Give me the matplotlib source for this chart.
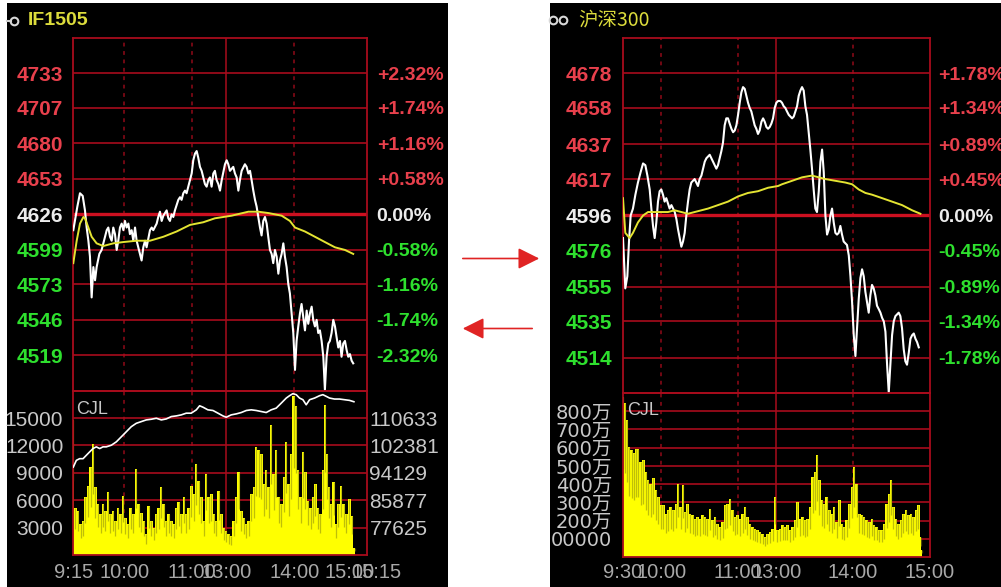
import numpy as np
import matplotlib
matplotlib.use("Agg")
import matplotlib.pyplot as plt
import matplotlib.transforms as mtransforms
from matplotlib.patches import Rectangle, FancyArrowPatch
from matplotlib.lines import Line2D

# ------------------------------------------------------------------ data
# IF1505 futures (minutes since 9:15, trading time)
if_title = "IF1505"
if_close = 4626
if_levels = [4733, 4707, 4680, 4653, 4626, 4599, 4573, 4546, 4519]
if_pct = ["+2.32%", "+1.74%", "+1.16%", "+0.58%", "0.00%", "-0.58%", "-1.16%", "-1.74%", "-2.32%"]
if_time = [0.0, 3.6, 5.9, 8.3, 10.3, 11.8, 13.3, 14.7, 16.2, 17.7, 19.2, 20.6, 23.0, 25.0, 26.5, 28.0, 29.5, 30.9,
           32.4, 33.9, 35.3, 36.8, 38.3, 39.7, 41.2, 42.7, 44.2, 45.6, 47.1, 48.6, 50.0, 51.5, 53.0, 54.5, 55.9,
           57.4, 58.9, 60.3, 61.8, 63.3, 64.7, 67.7, 69.2, 70.6, 73.6, 75.0, 76.5, 78.0, 79.5, 82.4, 83.9, 85.3,
           86.8, 88.3, 89.7, 91.2, 92.7, 94.2, 95.6, 97.1, 98.6, 100.0, 101.5, 103.0, 104.5, 105.9, 107.4, 108.9,
           110.3, 111.8, 113.3, 114.7, 116.2, 117.7, 119.2, 120.6, 122.1, 123.6, 125.0, 126.5, 128.0, 129.5,
           131.0, 133.9, 135.4, 136.8, 138.3, 141.2, 142.7, 144.2, 145.7, 147.1, 148.6, 151.5, 153.0, 154.5,
           156.0, 157.4, 158.9, 160.4, 161.8, 163.3, 164.8, 166.2, 167.7, 169.2, 170.7, 172.1, 173.6, 175.1,
           176.5, 178.0, 179.5, 181.0, 182.4, 183.9, 185.4, 186.8, 188.3, 189.8, 191.2, 192.7, 194.2, 195.7,
           197.1, 198.6, 200.1, 201.5, 203.0, 204.5, 206.0, 207.4, 208.9, 210.4, 211.8, 213.3, 214.8, 216.2,
           217.7, 219.2, 220.7, 222.1, 223.6, 225.1, 226.5, 228.0, 229.5, 231.0, 232.4, 233.9, 235.4, 236.8,
           238.3, 239.8, 241.3, 242.7, 244.2, 245.7, 247.1]
if_price = [4614, 4632, 4642, 4640, 4629, 4616, 4606, 4594, 4563, 4586, 4576, 4586, 4596, 4599, 4604, 4609, 4614, 4616,
            4609, 4606, 4616, 4611, 4599, 4606, 4616, 4619, 4614, 4621, 4616, 4619, 4611, 4614, 4606, 4616, 4606,
            4601, 4596, 4591, 4601, 4606, 4601, 4614, 4616, 4614, 4619, 4624, 4628, 4621, 4625, 4629, 4623, 4621,
            4626, 4624, 4629, 4633, 4637, 4639, 4637, 4642, 4644, 4642, 4647, 4652, 4657, 4667, 4672, 4674,
            4669, 4662, 4659, 4654, 4649, 4647, 4652, 4654, 4647, 4657, 4659, 4652, 4649, 4644,
            4652, 4664, 4667, 4664, 4659, 4662, 4657, 4654, 4644, 4652, 4659, 4664, 4662, 4657,
            4659, 4652, 4644, 4637, 4632, 4624, 4616, 4610, 4621, 4624, 4619, 4609, 4599, 4596,
            4589, 4599, 4594, 4581, 4591, 4596, 4604, 4594, 4586, 4573, 4566, 4551, 4536, 4508,
            4530, 4541, 4551, 4558, 4548, 4538, 4553, 4543, 4551, 4556, 4546, 4541, 4546, 4536,
            4538, 4530, 4518, 4493, 4518, 4528, 4530, 4536, 4546, 4541, 4533, 4525, 4530, 4518,
            4528, 4530, 4523, 4518, 4520, 4515, 4513]
if_avg_time = [0, 3.0, 5.9, 8.9, 10.3, 13.3, 16.2, 20.6, 26.5, 35.3, 44.2, 55.9, 67.7, 79.5, 91.2, 103.0, 114.7,
               125.0, 139.8, 154.5, 163.3, 172.1, 183.9, 191.2, 195.7, 204.5, 213.3, 222.1, 231.0, 239.8, 247.1]
if_avg = [4589, 4606, 4619, 4624, 4623, 4616, 4609, 4604, 4602, 4604, 4605, 4606, 4606, 4609, 4613, 4618, 4620,
          4623, 4625, 4628, 4628, 4627, 4625, 4621, 4616, 4613, 4609, 4605, 4601, 4599, 4596]
if_vol_levels = [15000, 12000, 9000, 6000, 3000]
if_vol_time = [0, 1.8, 4.1, 6.5, 8.6, 10.6, 13.0, 15.3, 17.4, 19.4, 21.8, 24.1, 26.2, 28.3, 30.6, 32.7, 35.0,
               37.1, 39.4, 41.8, 43.8, 45.9, 48.3, 50.6, 52.7, 55.6, 57.7, 60.0, 62.4, 64.4, 66.5, 68.8, 71.2,
               73.3, 75.3, 77.7, 79.7, 82.1, 84.1, 86.5, 88.8, 90.9, 93.0, 95.3, 97.7, 99.7, 101.8, 104.1, 106.5,
               108.6, 110.6, 113.0, 115.3, 117.4, 119.4, 121.8, 124.1, 126.2, 128.3, 130.6, 133.0, 135.0, 137.1,
               139.4, 141.5, 143.9, 145.9, 148.3, 150.6, 152.7, 154.7, 157.1, 159.4, 161.5, 163.6, 165.9, 168.3,
               170.3, 172.4, 174.7, 176.8, 179.1, 181.2, 183.6, 185.9, 188.0, 190.0, 192.4, 194.4, 196.5, 198.3,
               200.6, 202.7, 204.7, 207.1, 209.4, 211.5, 213.5, 215.9, 218.0, 220.3, 221.8, 223.6, 225.6, 227.7,
               229.7, 232.1, 234.1, 236.5, 238.6, 240.9, 243.8, 245.9, 248.3]
if_vol = [14800, 5200, 4830, 3360, 3730, 6310, 7600, 9630, 12210, 7420, 5570, 4460, 5570, 4830, 6860, 4460, 4830,
          3730, 5200, 4460, 6490, 4100, 3360, 5200, 4460, 9450, 5570, 4650, 3730, 2250, 5390, 3730, 2990,
          4460, 5200, 7420, 5570, 3730, 4460, 3730, 3360, 5200, 5760, 4460, 6310, 4460, 5200, 7600, 6680,
          10000, 8150, 6310, 3730, 8890, 6310, 6680, 4460, 3730, 7050, 4460, 2990, 2620, 2250,
          2070, 3730, 6310, 9080, 4830, 4100, 3360, 3730, 6680, 7420, 11850, 11480, 11110, 7790,
          9260, 7420, 14240, 8890, 11480, 6310, 5570, 8520, 12400, 7790, 11110, 17380, 16270, 9260,
          6310, 11290, 9080, 5940, 5200, 6310, 7790, 5200, 4460, 9260, 16460, 11110, 7420, 5570,
          7970, 3360, 5570, 7600, 5570, 4460, 6130, 4280, 770]
if_oi_levels = [110633, 102381, 94129, 85877, 77625]
if_oi_time = [0, 2.7, 5.6, 8.6, 11.5, 14.4, 17.4, 20.3, 23.3, 26.2, 29.1, 33.6, 38.0, 42.4, 46.8, 51.2, 55.6,
              60.0, 64.4, 68.8, 73.3, 77.7, 82.1, 86.5, 90.9, 95.3, 99.7, 104.1, 108.6, 111.5, 114.4, 118.8,
              123.3, 127.7, 132.1, 135.0, 139.4, 143.9, 148.3, 152.7, 157.1, 161.5, 165.9, 170.3, 174.7, 179.1,
              183.6, 188.0, 190.9, 193.8, 196.8, 199.7, 202.7, 205.6, 208.6, 213.0, 217.4, 220.3, 223.3, 226.2,
              230.6, 235.0, 239.4, 243.8, 247.7]
if_oi = [95870, 97900, 98400, 98400, 99420, 100430, 101450, 101960, 101450, 101960, 101960, 102460, 103480,
         105000, 106520, 108050, 109060, 109570, 110080, 110280, 110580, 110080, 110380, 111090, 111290, 111600,
         112110, 112110, 113120, 114340, 113930, 113120, 112920, 112110, 111290, 110890, 111600, 111900, 112310,
         112920, 113120, 112920, 112610, 112310, 113120, 113630, 115150, 116670, 117380, 117990, 117690, 116670,
         116170, 114640, 116170, 116670, 117380, 117690, 117180, 116670, 116370, 116370, 116170, 115970, 115560]
if_time_ticks = [0, 45, 105, 135, 195, 244, 268]
if_time_labels = ["9:15", "10:00", "11:00", "13:00", "14:00", "15:00", "15:15"]

# 沪深300 index (minutes since 9:30, trading time)
hs_title = "沪深300"
hs_close = 4596
hs_levels = [4678, 4658, 4637, 4617, 4596, 4576, 4555, 4535, 4514]
hs_pct = ["+1.78%", "+1.34%", "+0.89%", "+0.45%", "0.00%", "-0.45%", "-0.89%", "-1.34%", "-1.78%"]
hs_time = [0, 1.8, 3.4, 4.7, 6.0, 7.8, 9.7, 11.7, 13.8, 15.7, 17.5, 19.1, 20.9, 22.2, 23.5, 24.8, 26.1, 27.4,
           28.7, 30.0, 31.3, 32.6, 33.9, 35.2, 36.5, 37.9, 39.2, 40.5, 41.8, 43.1, 44.4, 45.7, 47.0, 48.3, 49.6,
           50.9, 52.2, 53.5, 54.8, 56.1, 57.4, 58.7, 60.0, 61.4, 62.7, 64.0, 65.3, 66.6, 67.9, 69.2, 70.5, 71.8,
           73.1, 74.4, 75.7, 77.0, 78.3, 79.6, 80.9, 82.2, 83.5, 84.9, 86.2, 87.5, 88.8, 90.1, 91.4, 92.7, 94.0,
           95.3, 96.6, 97.9, 99.2, 100.5, 101.8, 103.1, 104.4, 105.7, 107.0, 108.4, 109.7, 111.0, 112.3, 113.6,
           114.9, 116.2, 117.5, 118.8, 120.1, 121.4,
           123.2, 124.5, 125.8, 127.1, 128.4, 129.8, 131.1, 132.4, 133.7, 135.0, 136.3, 137.6, 138.9, 140.2,
           141.5, 142.8, 144.1, 145.4, 146.7, 148.0, 149.3, 150.6, 151.9, 153.3, 154.6, 155.9, 157.2, 158.5,
           159.8, 161.1, 162.4, 163.7, 165.0, 166.3, 167.6, 168.9, 170.2, 171.5, 172.8, 174.1, 175.4, 176.8,
           178.1, 179.4, 180.7, 182.0, 183.3, 184.6, 185.9, 187.2, 188.5, 189.8, 191.1, 192.4, 193.7, 195.0,
           196.3, 197.6, 198.9, 200.3, 201.6, 202.9, 204.2, 205.5, 206.8, 208.1, 209.4, 210.7, 212.0, 213.3,
           214.6, 215.9, 217.2, 218.5, 219.8, 221.1, 222.4, 223.8, 225.1, 226.4, 227.7, 229.0, 230.3, 231.6]
hs_price = [4583, 4554, 4561, 4581, 4596, 4600, 4608, 4615, 4621, 4626, 4625, 4619, 4611, 4600, 4590, 4583, 4592,
            4604, 4610, 4611, 4608, 4604, 4606, 4603, 4600, 4602, 4600, 4598, 4594, 4588, 4583, 4578, 4581, 4586,
            4596, 4604, 4611, 4615, 4616, 4617, 4615, 4613, 4617, 4619, 4623, 4627, 4629, 4630, 4631, 4629, 4627,
            4625, 4623, 4625, 4629, 4633, 4638, 4648, 4652, 4652, 4649, 4646, 4644, 4645, 4648, 4654, 4661, 4667,
            4670, 4669, 4665, 4661, 4658, 4656, 4652, 4648, 4646, 4643, 4645, 4650, 4652, 4650, 4647, 4646, 4647,
            4649, 4652, 4658, 4661, 4662,
            4662, 4661, 4659, 4658, 4656, 4654, 4653, 4652, 4653, 4656, 4659, 4665, 4668, 4670, 4668, 4659, 4654,
            4644, 4634, 4623, 4611, 4600, 4598, 4610, 4627, 4634, 4621, 4596, 4585, 4588, 4596, 4600, 4592, 4586,
            4585, 4586, 4590, 4585, 4581, 4580, 4579, 4573, 4561, 4546, 4527, 4515, 4531, 4548, 4560, 4565, 4561,
            4552, 4546, 4540, 4550, 4556, 4554, 4550, 4544, 4542, 4540, 4537, 4535, 4529, 4510, 4494, 4510, 4527,
            4535, 4538, 4539, 4540, 4538, 4531, 4519, 4512, 4510, 4517, 4525, 4527, 4528, 4525, 4523, 4520]
hs_avg_time = [0, 1.8, 5.2, 7.8, 11.7, 15.7, 19.6, 24.8, 30.0, 35.2, 40.5, 45.7, 50.9, 56.1, 61.4, 66.6, 74.4,
               82.2, 90.1, 97.9, 105.7, 113.6, 121.4, 124.5, 132.4, 140.2, 148.0, 158.5, 166.3, 174.1, 179.4,
               184.6, 189.8, 195.0, 202.9, 210.7, 218.5, 226.4, 232.9]
hs_avg = [4606, 4586, 4583, 4586, 4592, 4596, 4598, 4598, 4598, 4598, 4599, 4598, 4597, 4598, 4599, 4600, 4602,
          4604, 4607, 4609, 4610, 4612, 4613, 4614, 4616, 4618, 4619, 4617, 4616, 4615, 4614, 4611, 4609, 4608,
          4606, 4604, 4602, 4599, 4597]
hs_vol_levels = [800, 700, 600, 500, 400, 300, 200, 100]
hs_vol_labels = ["800万", "700万", "600万", "500万", "400万", "300万", "200万", "00000"]
hs_vol_time = [0, 1.5, 3.4, 4.9, 6.8, 8.6, 10.2, 12.0, 13.8, 15.9, 18.0, 19.8, 21.7, 23.7, 25.8, 27.7, 29.5, 31.6,
               33.7, 35.5, 37.3, 39.4, 41.5, 43.3, 45.1, 46.7, 48.5, 50.4, 52.5, 54.5, 56.4, 58.2, 60.3, 62.4,
               64.2, 66.0, 68.1, 70.2, 72.0, 73.9, 76.0, 78.0, 79.9, 81.7, 83.8, 85.9, 87.7, 89.5, 91.6, 93.7,
               95.5, 97.4, 99.5, 101.5, 103.4, 105.2, 107.3, 109.4, 111.2, 113.0, 115.1, 117.2, 119.0, 120.9,
               123.0, 125.0, 126.9, 128.7, 130.8, 132.9, 134.7, 136.5, 138.6, 140.7, 142.5, 144.4, 146.5, 148.5,
               150.4, 152.2, 153.8, 155.6, 157.4, 159.5, 161.6, 163.4, 165.3, 167.3, 169.4, 171.3, 173.1, 175.2,
               177.3, 179.1, 180.9, 183.0, 185.1, 186.9, 188.8, 190.8, 192.9, 194.8, 196.6, 198.7, 200.8, 202.6,
               204.4, 206.5, 208.6, 209.6, 211.7, 213.8, 215.6, 217.5, 219.6, 221.7, 223.5, 225.3, 227.4, 229.5,
               231.3, 233.1, 233.9]
hs_vol = [879, 843, 751, 605, 586, 568, 595, 595, 522, 531, 467, 421, 403, 431, 366, 330, 284, 284, 238, 256,
          275, 256, 293, 403, 275, 394, 247, 293, 238, 229, 211, 220, 211, 229, 220, 211, 266, 202, 220, 183,
          165, 192, 284, 293, 321, 256, 220, 229, 211, 238, 275, 220, 183, 165, 156, 147, 137, 128, 110, 128,
          137, 156, 330, 147, 156, 174, 165, 174, 147, 165, 202, 302, 211, 220, 202, 211, 275, 440, 467, 559,
          421, 311, 293, 330, 256, 238, 275, 192, 311, 183, 165, 202, 293, 385, 495, 403, 238, 229, 220, 202,
          192, 211, 174, 165, 147, 147, 183, 293, 348, 421, 275, 211, 183, 202, 238, 256, 229, 238, 220, 256,
          284, 110, 37]
hs_time_ticks = [0, 30, 90, 120, 180, 240]
hs_time_labels = ["9:30", "10:00", "11:00", "13:00", "14:00", "15:00"]

# ------------------------------------------------------------------ style
W, H = 1001, 587
GRID = "#a80c1c"
DASH = "#900a18"
CENTER = "#cc1020"
RED_T = "#e8404c"
GREEN_T = "#2ee02e"
WHITE_T = "#ececec"
GRAY_T = "#c8c8c8"
TIME_T = "#a8a8a8"
YEL = "#ffff00"
OLIVE = "#8c8c10"
AVG = "#e4e432"
NUM = "Liberation Sans"

fig = plt.figure(figsize=(W / 100, H / 100), dpi=100)
fig.patch.set_facecolor("white")


def fx(x):
    return x / W


def fy(y):
    return 1 - y / H


def add_ax(x0, y0, x1, y1):
    return fig.add_axes([x0 / W, 1 - y1 / H, (x1 - x0) / W, (y1 - y0) / H])


for (x0, x1) in [(7, 448), (550, 1001)]:
    fig.add_artist(Rectangle((fx(x0), fy(587)), (x1 - x0) / W, (587 - 3) / H,
                             transform=fig.transFigure, facecolor="black", edgecolor="none", zorder=-10))


def level_color(v, close):
    if v > close:
        return RED_T
    if v < close:
        return GREEN_T
    return WHITE_T


def style_spines(ax):
    for s in ax.spines.values():
        s.set_color(GRID)
        s.set_linewidth(1.3)


def vert_lines(ax, vticks, solid):
    for v in vticks:
        ax.axvline(v, color=GRID if v == solid else DASH, lw=1.1,
                   ls="-" if v == solid else (0, (2.5, 3)), zorder=1)


def price_panel(ax, xmax, close, step, levels, pct, vticks, solid, padl, padr):
    ax.set_facecolor("none")
    ax.set_xlim(0, xmax)
    ax.set_ylim(close - 5 * step, close + 5 * step)
    style_spines(ax)
    ax.set_xticks([])
    ax.set_yticks(levels)
    ax.set_yticklabels([str(v) for v in levels], family=NUM, weight="bold", fontsize=15)
    ax.tick_params(axis="y", length=0, pad=padl)
    ax.yaxis.grid(True, color=GRID, lw=1.2)
    for gl, lv in zip(ax.get_ygridlines(), levels):
        if lv == close:
            gl.set_color(CENTER)
            gl.set_linewidth(2.4)
    for lbl, lv in zip(ax.get_yticklabels(), levels):
        lbl.set_color(level_color(lv, close))
    vert_lines(ax, vticks, solid)
    ax2 = ax.twinx()
    ax2.set_ylim(ax.get_ylim())
    ax2.set_yticks(levels)
    ax2.set_yticklabels(pct, family=NUM, weight="bold", fontsize=14)
    ax2.tick_params(axis="y", length=0, pad=padr)
    for s in ax2.spines.values():
        s.set_visible(False)
    for lbl, lv in zip(ax2.get_yticklabels(), levels):
        lbl.set_color(level_color(lv, close))
    return ax2


def volume_panel(ax, xmax, ymax, levels, labels, vticks, solid, padl, fam, fs):
    ax.set_facecolor("none")
    ax.set_xlim(0, xmax)
    ax.set_ylim(0, ymax)
    style_spines(ax)
    ax.set_xticks([])
    ax.set_yticks(levels)
    ax.set_yticklabels(labels, family=fam, fontsize=fs, color=GRAY_T)
    ax.tick_params(axis="y", length=0, pad=padl)
    ax.yaxis.grid(True, color=GRID, lw=1.2)
    vert_lines(ax, vticks, solid)


def draw_volume(ax, t, v):
    ax.fill_between(t, v, step="mid", color=YEL, lw=0, zorder=2)
    vv = np.asarray(v, dtype=float)
    ax.vlines(t, vv * 0.55, vv, color=OLIVE, lw=0.9, alpha=0.55, zorder=2.1)


def time_labels(ax, ticks, labels, yoff):
    tr = mtransforms.blended_transform_factory(ax.transData, ax.transAxes)
    for t, lab in zip(ticks, labels):
        ax.text(t, yoff, lab, transform=tr, ha="center", va="center", color=TIME_T,
                family=NUM, fontsize=14.5, clip_on=False)


# ------------------------------------------------------------- left panel
IF_XMAX = 259
axp = add_ax(73.3, 38, 366.7, 390.7)
price_panel(axp, IF_XMAX, if_close, 26.75, if_levels, if_pct, [45, 105, 135, 195], 135, 7.2, 7.2)
axp.plot(if_time, if_price, color="white", lw=1.5, zorder=3)
axp.plot(if_avg_time, if_avg, color=AVG, lw=1.4, zorder=4)

axv = add_ax(73.3, 390.7, 366.7, 555)
volume_panel(axv, IF_XMAX, 18000, if_vol_levels, [str(v) for v in if_vol_levels],
             [45, 105, 135, 195], 135, 7.2, NUM, 15)
draw_volume(axv, if_vol_time, if_vol)
axoi = axv.twinx()
axoi.set_ylim(69373, 118885)
axoi.set_yticks(if_oi_levels)
axoi.set_yticklabels([str(v) for v in if_oi_levels], family=NUM, fontsize=15, color=GRAY_T)
axoi.tick_params(axis="y", length=0, pad=2)
for s in axoi.spines.values():
    s.set_visible(False)
axoi.plot(if_oi_time, if_oi, color="white", lw=1.2, zorder=3)
axv.text(0.008, 0.885, "CJL", transform=axv.transAxes, color=GRAY_T, fontsize=13,
         family=NUM, ha="left", va="center", zorder=5)
time_labels(axv, if_time_ticks, if_time_labels, -0.1035)

fig.text(fx(28), fy(20.5), if_title, color="#dcdc3c", fontsize=14, family=NUM, weight="bold",
         ha="left", va="center")
fig.add_artist(Line2D([fx(7), fx(10.5)], [fy(20.5), fy(20.5)], color="#d0d0d0", lw=1.5,
                      transform=fig.transFigure))
fig.add_artist(Line2D([fx(14)], [fy(20.5)], marker="o", markersize=5.5, markerfacecolor="none",
                      markeredgecolor="#d8d8d8", markeredgewidth=1.5, transform=fig.transFigure))

# ------------------------------------------------------------ right panel
HS_XMAX = 240.4
bxp = add_ax(623, 38, 930, 393)
price_panel(bxp, HS_XMAX, hs_close, 20.46, hs_levels, hs_pct, [30, 90, 120, 180], 120, 7.9, 5.8)
bxp.plot(hs_time, hs_price, color="white", lw=1.5, zorder=3)
bxp.plot(hs_avg_time, hs_avg, color=AVG, lw=1.4, zorder=4)

bxv = add_ax(623, 393, 930, 557)
volume_panel(bxv, HS_XMAX, 900, hs_vol_levels, hs_vol_labels, [30, 90, 120, 180], 120, 7.9,
             ["DejaVu Sans", "Noto Sans CJK SC"], 14)
draw_volume(bxv, hs_vol_time, hs_vol)
bxv.text(0.012, 0.896, "CJL", transform=bxv.transAxes, color=GRAY_T, fontsize=13,
         family=NUM, ha="left", va="center", zorder=5)
time_labels(bxv, hs_time_ticks, hs_time_labels, -0.0915)

fig.text(fx(578), fy(20), hs_title, color="#dcdc3c", fontsize=14,
         family=["Noto Sans CJK SC", "DejaVu Sans"], ha="left", va="center")
for cx in (553, 563):
    fig.add_artist(Line2D([fx(cx)], [fy(20)], marker="o", markersize=5.5, markerfacecolor="none",
                          markeredgecolor="#d8d8d8", markeredgewidth=1.5, transform=fig.transFigure))

# ----------------------------------------------------------------- arrows
for (xa, xb, yy) in [(460, 542, 258.5), (535, 460, 328.5)]:
    fig.add_artist(FancyArrowPatch((fx(xa), fy(yy)), (fx(xb), fy(yy)), transform=fig.transFigure,
                                   arrowstyle="-|>,head_length=13,head_width=6.5", mutation_scale=1,
                                   color="#e02424", lw=1.2))

fig.savefig("out.png", dpi=100, facecolor=fig.get_facecolor())
